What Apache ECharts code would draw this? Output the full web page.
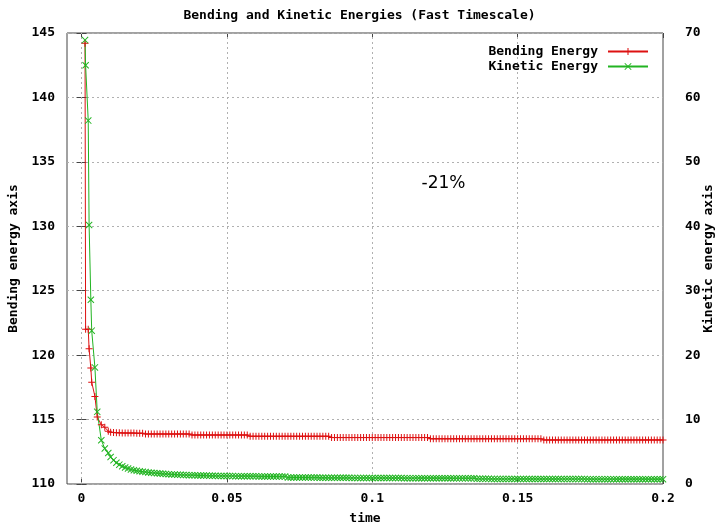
<!DOCTYPE html>
<html>
<head>
<meta charset="utf-8">
<title>Bending and Kinetic Energies (Fast Timescale)</title>
<script src="https://cdn.jsdelivr.net/npm/echarts@6/dist/echarts.min.js"></script>
<style>
  html, body { margin: 0; padding: 0; background: #fff; }
  #chart { width: 719px; height: 526px; }
</style>
</head>
<body>
<div id="chart"></div>
<script>
// Sample times of the simulation output
const times = [
  0.0012, 0.0014, 0.0023, 0.0026, 0.0032, 0.0035, 0.0046, 0.0054, 0.0068, 0.0080, 0.0092,
  0.010, 0.011, 0.012, 0.013, 0.014, 0.015, 0.016, 0.017, 0.018, 0.019,
  0.020, 0.021, 0.022, 0.023, 0.024, 0.025, 0.026, 0.027, 0.028, 0.029,
  0.030, 0.031, 0.032, 0.033, 0.034, 0.035, 0.036, 0.037, 0.038, 0.039,
  0.040, 0.041, 0.042, 0.043, 0.044, 0.045, 0.046, 0.047, 0.048, 0.049,
  0.050, 0.051, 0.052, 0.053, 0.054, 0.055, 0.056, 0.057, 0.058, 0.059,
  0.060, 0.061, 0.062, 0.063, 0.064, 0.065, 0.066, 0.067, 0.068, 0.069,
  0.070, 0.071, 0.072, 0.073, 0.074, 0.075, 0.076, 0.077, 0.078, 0.079,
  0.080, 0.081, 0.082, 0.083, 0.084, 0.085, 0.086, 0.087, 0.088, 0.089,
  0.090, 0.091, 0.092, 0.093, 0.094, 0.095, 0.096, 0.097, 0.098, 0.099,
  0.100, 0.101, 0.102, 0.103, 0.104, 0.105, 0.106, 0.107, 0.108, 0.109,
  0.110, 0.111, 0.112, 0.113, 0.114, 0.115, 0.116, 0.117, 0.118, 0.119,
  0.120, 0.121, 0.122, 0.123, 0.124, 0.125, 0.126, 0.127, 0.128, 0.129,
  0.130, 0.131, 0.132, 0.133, 0.134, 0.135, 0.136, 0.137, 0.138, 0.139,
  0.140, 0.141, 0.142, 0.143, 0.144, 0.145, 0.146, 0.147, 0.148, 0.149,
  0.150, 0.151, 0.152, 0.153, 0.154, 0.155, 0.156, 0.157, 0.158, 0.159,
  0.160, 0.161, 0.162, 0.163, 0.164, 0.165, 0.166, 0.167, 0.168, 0.169,
  0.170, 0.171, 0.172, 0.173, 0.174, 0.175, 0.176, 0.177, 0.178, 0.179,
  0.180, 0.181, 0.182, 0.183, 0.184, 0.185, 0.186, 0.187, 0.188, 0.189,
  0.190, 0.191, 0.192, 0.193, 0.194, 0.195, 0.196, 0.197, 0.198, 0.199,
  0.200
];

// Bending energy (left axis)
const bendingEnergy = [
  144.2, 122.0, 122.0, 120.5, 119.0, 117.9, 116.8, 115.2, 114.6, 114.4, 114.1,
  114.02, 114.00, 113.98, 113.97, 113.96, 113.96, 113.95, 113.95, 113.95, 113.94,
  113.94, 113.94, 113.88, 113.88, 113.88, 113.88, 113.88, 113.88, 113.88, 113.88,
  113.88, 113.88, 113.88, 113.88, 113.88, 113.88, 113.88, 113.88, 113.80, 113.80,
  113.80, 113.80, 113.80, 113.80, 113.80, 113.80, 113.80, 113.80, 113.80, 113.80,
  113.80, 113.80, 113.80, 113.80, 113.80, 113.80, 113.80, 113.80, 113.70, 113.70,
  113.70, 113.70, 113.70, 113.70, 113.70, 113.70, 113.70, 113.70, 113.70, 113.70,
  113.70, 113.70, 113.70, 113.70, 113.70, 113.70, 113.70, 113.70, 113.70, 113.70,
  113.70, 113.70, 113.70, 113.70, 113.70, 113.70, 113.60, 113.60, 113.60, 113.60,
  113.60, 113.60, 113.60, 113.60, 113.60, 113.60, 113.60, 113.60, 113.60, 113.60,
  113.60, 113.60, 113.60, 113.60, 113.60, 113.60, 113.60, 113.60, 113.60, 113.60,
  113.60, 113.60, 113.60, 113.60, 113.60, 113.60, 113.60, 113.60, 113.60, 113.60,
  113.51, 113.51, 113.51, 113.51, 113.51, 113.51, 113.51, 113.51, 113.51, 113.51,
  113.51, 113.51, 113.51, 113.51, 113.51, 113.51, 113.51, 113.51, 113.51, 113.51,
  113.51, 113.51, 113.51, 113.51, 113.51, 113.51, 113.51, 113.51, 113.51, 113.51,
  113.51, 113.51, 113.51, 113.51, 113.51, 113.51, 113.51, 113.51, 113.51, 113.42,
  113.42, 113.42, 113.42, 113.42, 113.42, 113.42, 113.42, 113.42, 113.42, 113.42,
  113.42, 113.42, 113.42, 113.42, 113.42, 113.42, 113.42, 113.42, 113.42, 113.42,
  113.42, 113.42, 113.42, 113.42, 113.42, 113.42, 113.42, 113.42, 113.42, 113.42,
  113.42, 113.42, 113.42, 113.42, 113.42, 113.42, 113.42, 113.42, 113.42, 113.42,
  113.42, 113.42
];

// Kinetic energy (right axis)
const kineticEnergy = [
  68.9, 65.0, 56.4, 40.2, 28.6, 23.8, 18.1, 11.2, 6.8, 5.5, 4.8,
  4.20, 3.70, 3.30, 3.00, 2.75, 2.55, 2.40, 2.25, 2.15, 2.05,
  1.98, 1.92, 1.86, 1.80, 1.75, 1.70, 1.66, 1.62, 1.58, 1.55,
  1.52, 1.49, 1.47, 1.45, 1.43, 1.41, 1.39, 1.37, 1.36, 1.34,
  1.33, 1.32, 1.31, 1.30, 1.29, 1.28, 1.27, 1.26, 1.25, 1.25,
  1.24, 1.23, 1.23, 1.22, 1.22, 1.21, 1.21, 1.20, 1.20, 1.19,
  1.19, 1.18, 1.18, 1.17, 1.17, 1.17, 1.16, 1.16, 1.15, 1.15,
  1.15, 1.02, 1.02, 1.01, 1.01, 1.01, 1.00, 1.00, 1.00, 0.99,
  0.99, 0.99, 0.98, 0.98, 0.98, 0.97, 0.97, 0.97, 0.97, 0.96,
  0.96, 0.96, 0.96, 0.95, 0.95, 0.95, 0.95, 0.94, 0.94, 0.94,
  0.94, 0.93, 0.93, 0.93, 0.93, 0.93, 0.92, 0.92, 0.92, 0.92,
  0.92, 0.91, 0.91, 0.91, 0.91, 0.91, 0.90, 0.90, 0.90, 0.90,
  0.90, 0.90, 0.89, 0.89, 0.89, 0.89, 0.89, 0.89, 0.88, 0.88,
  0.88, 0.88, 0.88, 0.88, 0.88, 0.88, 0.80, 0.80, 0.80, 0.80,
  0.80, 0.79, 0.79, 0.79, 0.79, 0.79, 0.79, 0.79, 0.78, 0.78,
  0.78, 0.78, 0.78, 0.78, 0.78, 0.78, 0.77, 0.77, 0.77, 0.77,
  0.77, 0.77, 0.77, 0.77, 0.77, 0.76, 0.76, 0.76, 0.76, 0.76,
  0.76, 0.76, 0.76, 0.76, 0.75, 0.75, 0.75, 0.75, 0.75, 0.75,
  0.75, 0.75, 0.75, 0.75, 0.74, 0.74, 0.74, 0.74, 0.74, 0.74,
  0.74, 0.74, 0.74, 0.74, 0.74, 0.73, 0.73, 0.73, 0.73, 0.73,
  0.73, 0.73
];

const timeTicks = [0, 0.05, 0.1, 0.15, 0.2];
const timeGridLines = [0, 0.05, 0.1, 0.15];
const dropLabel = '-21%';
const dropLabelAt = [0.1245, 133.35];

const RED = '#dd1111';
const GREEN = '#22b422';
const FONT = 'DejaVu Sans Mono';
const PLUS = 'path://M3,0H4V7H3Z M0,3H7V4H0Z';
const CROSS = 'path://M0,0.7L0.7,0L7,6.3L6.3,7Z M6.3,0L7,0.7L0.7,7L0,6.3Z';

const labelStyle = { color: '#000', fontFamily: FONT, fontWeight: 'bold', fontSize: 13 };
const gridDash = { color: '#b0b0b0', type: [2, 3], width: 1 };

const chart = echarts.init(document.getElementById('chart'), null, { renderer: 'canvas' });

chart.setOption({
  animation: false,
  backgroundColor: '#fff',
  title: {
    text: 'Bending and Kinetic Energies (Fast Timescale)',
    left: 'center',
    top: 4,
    textStyle: { ...labelStyle, fontSize: 13 }
  },
  legend: {
    orient: 'vertical',
    right: 65,
    top: 40,
    align: 'right',
    itemWidth: 40,
    itemHeight: 9,
    itemGap: 2,
    textStyle: { ...labelStyle, lineHeight: 13, padding: [0, 5, 0, 0] },
    data: ['Bending Energy', 'Kinetic Energy']
  },
  grid: {
    left: 67, right: 56, top: 33, bottom: 42,
    outerBoundsMode: 'none',
    containLabel: false,
    show: true, borderColor: '#444', borderWidth: 1, backgroundColor: 'transparent'
  },
  xAxis: [{
    type: 'value',
    min: -0.005,
    max: 0.2,
    name: 'time',
    nameLocation: 'middle',
    nameGap: 28,
    nameMoveOverlap: false,
    nameTextStyle: { ...labelStyle },
    axisLine: { show: false },
    axisTick: { show: true, inside: true, length: 5, customValues: timeTicks, lineStyle: { color: '#444' } },
    axisLabel: { ...labelStyle, margin: 8, customValues: timeTicks, formatter: v => String(v) },
    splitLine: { show: false }
  }, {
    type: 'value',
    position: 'top',
    min: -0.005,
    max: 0.2,
    axisLine: { show: false },
    axisTick: { show: true, inside: true, length: 5, customValues: timeTicks, lineStyle: { color: '#444' } },
    axisLabel: { show: false },
    splitLine: { show: false }
  }],
  yAxis: [{
    type: 'value',
    min: 110,
    max: 145,
    interval: 5,
    name: 'Bending energy axis',
    nameLocation: 'middle',
    nameRotate: 90,
    nameGap: 47,
    nameMoveOverlap: false,
    nameTextStyle: { ...labelStyle },
    axisLine: { show: false },
    axisTick: { show: true, inside: true, length: 5, lineStyle: { color: '#444' } },
    axisLabel: { ...labelStyle, margin: 12 },
    splitLine: { show: true, lineStyle: gridDash }
  }, {
    type: 'value',
    position: 'right',
    min: 0,
    max: 70,
    interval: 10,
    name: 'Kinetic energy axis',
    nameLocation: 'middle',
    nameRotate: 90,
    nameGap: 39,
    nameMoveOverlap: false,
    nameTextStyle: { ...labelStyle },
    axisLine: { show: false },
    axisTick: { show: true, inside: true, length: 5, lineStyle: { color: '#444' } },
    axisLabel: { ...labelStyle, margin: 22 },
    splitLine: { show: false }
  }],
  series: [{
    name: 'Bending Energy',
    type: 'line',
    xAxisIndex: 0,
    yAxisIndex: 0,
    data: times.map((t, i) => [t, bendingEnergy[i]]),
    symbol: PLUS,
    symbolSize: 7,
    showAllSymbol: true,
    itemStyle: { color: RED },
    lineStyle: { color: RED, width: 1 },
    markLine: {
      silent: true,
      z: 1,
      symbol: ['none', 'none'],
      label: { show: false },
      lineStyle: gridDash,
      data: timeGridLines.map(v => ({ xAxis: v }))
    },
    markPoint: {
      silent: true,
      symbol: 'circle',
      symbolSize: 0,
      label: {
        show: true,
        position: 'inside',
        formatter: dropLabel,
        color: '#000',
        fontFamily: 'DejaVu Sans',
        fontSize: 17
      },
      data: [{ coord: dropLabelAt }]
    }
  }, {
    name: 'Kinetic Energy',
    type: 'line',
    xAxisIndex: 0,
    yAxisIndex: 1,
    data: times.map((t, i) => [t, kineticEnergy[i]]),
    symbol: CROSS,
    symbolSize: 7,
    showAllSymbol: true,
    itemStyle: { color: GREEN },
    lineStyle: { color: GREEN, width: 1 }
  }]
});
</script>
</body>
</html>
